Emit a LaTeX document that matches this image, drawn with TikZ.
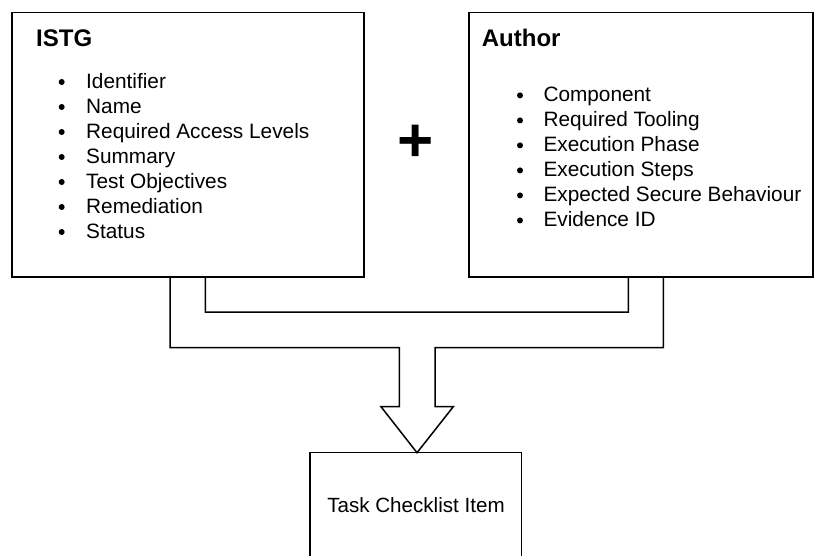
\documentclass[tikz,border=0pt]{standalone}
\usepackage{fontspec}
\setmainfont{Liberation Sans}
\begin{document}
\begin{tikzpicture}[x=1pt, y=-1pt,
  box/.style={draw=black, line width=1.5pt, inner sep=0pt, outer sep=0pt, anchor=north west},
  title/.style={anchor=base west, inner sep=0pt, font=\fontsize{24}{28}\selectfont\bfseries},
  listitem/.style={anchor=base west, inner sep=0pt, font=\fontsize{20.8}{25}\selectfont},
  dot/.style={circle, fill=black, inner sep=0pt, minimum size=6pt},
  label/.style={anchor=base, inner sep=0pt, font=\fontsize{20.6}{25}\selectfont},
  plus/.style={inner sep=0pt, font=\fontsize{62}{70}\selectfont\bfseries},
  fork/.style={draw=black, line width=1.5pt, line join=miter}
]
\useasboundingbox (0,0) rectangle (814,556);
\clip (0,0) rectangle (814,556);

% the two source boxes and the resulting item
\node[box, minimum width=352pt, minimum height=264.5pt] (istg) at (12,12.5) {};
\node[box, minimum width=344pt, minimum height=264.5pt] (author) at (469,12.5) {};
\node[box, minimum width=211.7pt, minimum height=130pt] (task) at (310,452.7) {};

% titles
\node[title] (istgtitle) at (36,46.7) {ISTG};
\node[title] (authortitle) at (481.7,46.7) {Author};

% ISTG fields
\foreach \t [count=\i] in {Identifier, Name, Required Access Levels, Summary,
                           Test Objectives, Remediation, Status} {
  \node[listitem] (istgitem\i) at (86, {88.3+25*(\i-1)}) {\t};
  \node[dot] (istgdot\i) at (61.7, {82+25*(\i-1)}) {};
}

% Author fields
\foreach \t [count=\i] in {Component, Required Tooling, Execution Phase, Execution Steps,
                           Expected Secure Behaviour, Evidence ID} {
  \node[listitem] (authoritem\i) at (543.3, {101.7+25*(\i-1)}) {\t};
  \node[dot] (authordot\i) at (520, {95.4+25*(\i-1)}) {};
}

% plus sign between the boxes
\node[plus] (plussign) at (416,143) {+};

% result label
\node[label] (tasklabel) at (416,512.3) {Task Checklist Item};

% hollow fork arrow joining both boxes into the item
\coordinate (ol) at (170,277);
\coordinate (il) at (205.3,277);
\coordinate (ir) at (628.3,277);
\coordinate (or) at (663.3,277);
\coordinate (tip) at (task.north -| 417,0);
\draw[fork] (ol) -- (170,347.7) -- (399.3,347.7) -- (399.3,406.7) -- (381,406.7)
  -- (tip) -- (453.3,406.7) -- (435,406.7) -- (435,347.7) -- (663.3,347.7)
  -- (or) -- (ir) -- (628.3,312) -- (205.3,312) -- (il) -- cycle;
\end{tikzpicture}
\end{document}
